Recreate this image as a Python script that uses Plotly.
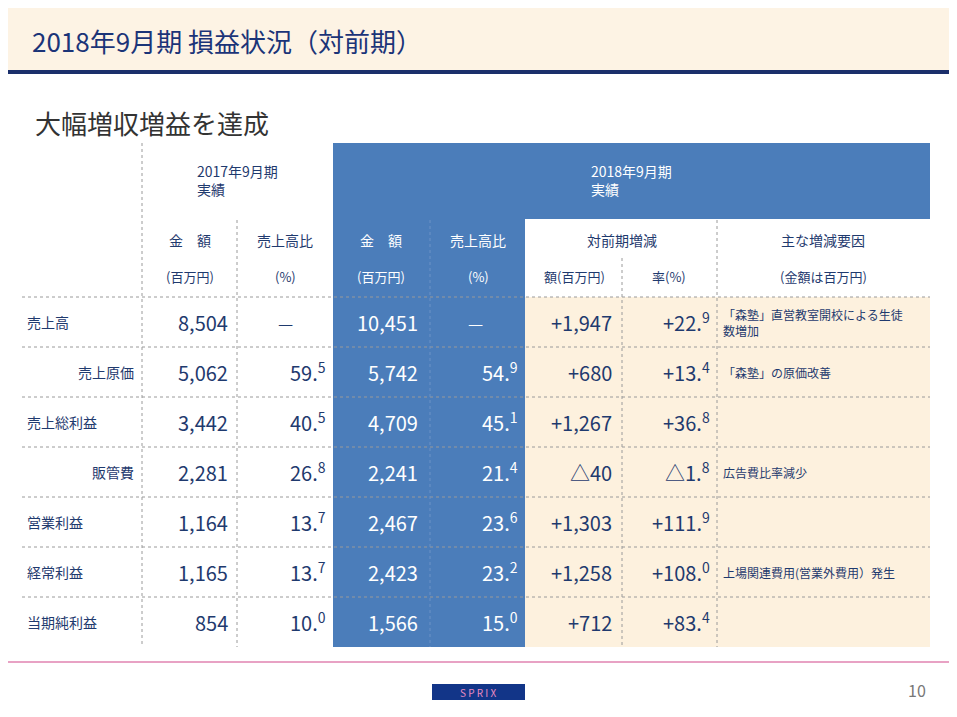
import plotly.graph_objects as go

row_labels = ["売上高", "売上原価", "売上総利益", "販管費", "営業利益", "経常利益", "当期純利益"]
row_indent = [False, True, False, True, False, False, False]
amt_2017 = ["8,504", "5,062", "3,442", "2,281", "1,164", "1,165", "854"]
ratio_2017 = ["—", "59.<sup>5</sup>", "40.<sup>5</sup>", "26.<sup>8</sup>", "13.<sup>7</sup>", "13.<sup>7</sup>", "10.<sup>0</sup>"]
amt_2018 = ["10,451", "5,742", "4,709", "2,241", "2,467", "2,423", "1,566"]
ratio_2018 = ["—", "54.<sup>9</sup>", "45.<sup>1</sup>", "21.<sup>4</sup>", "23.<sup>6</sup>", "23.<sup>2</sup>", "15.<sup>0</sup>"]
diff_amt = ["+1,947", "+680", "+1,267", "△40", "+1,303", "+1,258", "+712"]
diff_rate = ["+22.<sup>9</sup>", "+13.<sup>4</sup>", "+36.<sup>8</sup>", "△1.<sup>8</sup>", "+111.<sup>9</sup>", "+108.<sup>0</sup>", "+83.<sup>4</sup>"]
reasons = ["「森塾」直営教室開校による生徒<br>数増加", "「森塾」の原価改善", "", "広告費比率減少", "", "上場関連費用(営業外費用）発生", ""]

FONT = "Noto Sans CJK JP"
NAVY = "#1f3a6e"
BLUE = "#4b7dba"
BEIGE = "#fdf1de"

fig = go.Figure()
shapes = []
ann = []

def rect(x0, y0, x1, y1, color):
    shapes.append(dict(type="rect", x0=x0, x1=x1, y0=y0, y1=y1, fillcolor=color, line=dict(width=0), layer="below"))

def line(x0, y0, x1, y1, color="#9a9a9a", dash="dot", width=1):
    shapes.append(dict(type="line", x0=x0, x1=x1, y0=y0, y1=y1, line=dict(color=color, dash=dash, width=width)))

def text(x, y, t, size=14, color=NAVY, anchor="center", yanchor="middle"):
    ann.append(dict(x=x, y=y, text=t, showarrow=False, xanchor=anchor, yanchor=yanchor,
                    font=dict(family=FONT, size=size, color=color), align="left"))

# title band
rect(0, 0, 957, 70, "#fdf3e4")
line(0, 72, 957, 72, color="#1b2f6b", dash="solid", width=4)
text(30, 40, "2018年9月期 損益状況（対前期）", size=26, color="#1b3478", anchor="left")
text(33, 122, "大幅増収増益を達成", size=26, color="#333333", anchor="left")

# backgrounds
rect(333, 143, 930, 219, BLUE)
rect(333, 219, 525, 647, BLUE)
rect(525, 297, 930, 647, BEIGE)

# headers
text(237, 180, "2017年9月期<br>実績", size=14)
text(631, 180, "2018年9月期<br>実績", size=14, color="white")
hdr2 = [(190, "金　額", NAVY), (285, "売上高比", NAVY), (381, "金　額", "white"), (478, "売上高比", "white"),
        (622, "対前期増減", NAVY), (823, "主な増減要因", NAVY)]
for x, t, c in hdr2:
    text(x, 240, t, size=14, color=c)
hdr3 = [(190, "(百万円)", NAVY), (285, "(%)", NAVY), (381, "(百万円)", "white"), (478, "(%)", "white"),
        (574, "額(百万円)", NAVY), (669, "率(%)", NAVY), (823, "(金額は百万円)", NAVY)]
for x, t, c in hdr3:
    text(x, 276, t, size=13, color=c)

# grid
row_top = 297
row_h = 50
for i in range(7):
    y = row_top + i * row_h
    line(22, y, 930, y)
line(142, 143, 142, 647)
line(237, 220, 237, 647)
line(430, 220, 430, 647, color="#6d93c6")
line(622, 258, 622, 647)
line(717, 220, 717, 647)

# data
for i in range(7):
    yc = row_top + i * row_h + 25
    if row_indent[i]:
        text(136, yc, row_labels[i], size=14, anchor="right")
    else:
        text(25, yc, row_labels[i], size=14, anchor="left")
    text(230, yc, amt_2017[i], size=20, anchor="right")
    if ratio_2017[i] == "—":
        text(285, yc, "—", size=17)
    else:
        text(328, yc, ratio_2017[i], size=20, anchor="right")
    text(420, yc, amt_2018[i], size=20, color="white", anchor="right")
    if ratio_2018[i] == "—":
        text(475, yc, "—", size=17, color="white")
    else:
        text(520, yc, ratio_2018[i], size=20, color="white", anchor="right")
    text(614, yc, diff_amt[i], size=20, anchor="right")
    text(712, yc, diff_rate[i], size=20, anchor="right")
    if reasons[i]:
        text(721, yc, reasons[i], size=12, anchor="left")

# footer
line(0, 662, 957, 662, color="#e8a2c4", dash="solid", width=2)
rect(432, 684, 525, 700, "#123588")
text(478, 692, "S P R I X", size=10, color="#e88ac0")
text(928, 690, "10", size=16, color="#777777", anchor="right")

# page is offset by the browser's default body margin (~8px); compensate in axis ranges
fig.update_layout(
    width=957, height=717, margin=dict(l=0, r=0, t=0, b=0),
    paper_bgcolor="white", plot_bgcolor="white",
    xaxis=dict(range=[8, 965], visible=False, fixedrange=True),
    yaxis=dict(range=[725, 8], visible=False, fixedrange=True),
    shapes=shapes, annotations=ann, showlegend=False,
)
fig.write_html("out.html", config={"displayModeBar": False})
